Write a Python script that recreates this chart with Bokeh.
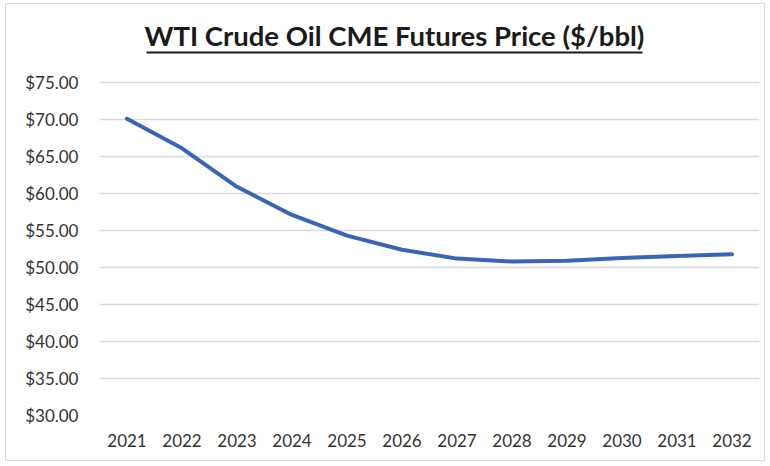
from bokeh.plotting import figure
from bokeh.models import FixedTicker, NumeralTickFormatter, BoxAnnotation, Label, Range1d
from bokeh.embed import file_html
from bokeh.resources import INLINE

years = ["2021", "2022", "2023", "2024", "2025", "2026",
         "2027", "2028", "2029", "2030", "2031", "2032"]
prices = [70.1, 66.1, 60.9, 57.1, 54.3, 52.4, 51.2, 50.8, 50.9, 51.3, 51.55, 51.8]
y_ticks = [30, 35, 40, 45, 50, 55, 60, 65, 70, 75]
title_text = "WTI Crude Oil CME Futures Price ($/bbl)"

FONT = "Lato"

# frame spans the whole height; the title sits inside it above the $75 gridline
p = figure(x_range=years, y_range=Range1d(30, 85.54), width=760, height=458,
           output_backend="svg", toolbar_location=None,
           min_border_left=93, min_border_right=7, min_border_bottom=47,
           min_border_top=0)

p.line(x=years, y=prices, line_color="#3A64B8", line_width=4,
       line_join="round", line_cap="round")

# title + underline (screen units, measured from the frame's bottom-left)
p.add_layout(Label(x=295, y=380, x_units="screen", y_units="screen",
                   text=title_text, text_align="center", text_baseline="alphabetic",
                   text_font=FONT, text_font_size="27.5px", text_font_style="bold",
                   text_color="#1a1a1a"))
p.add_layout(BoxAnnotation(left=47, right=543, bottom=362, top=364,
                           left_units="screen", right_units="screen",
                           bottom_units="screen", top_units="screen",
                           fill_color="#1a1a1a", fill_alpha=1.0,
                           line_color=None))

p.outline_line_color = None
p.background_fill_color = "white"
p.border_fill_color = "white"

p.xgrid.grid_line_color = None
p.ygrid.grid_line_color = "#d9d9d9"
p.ygrid.grid_line_width = 1.5

p.yaxis.ticker = FixedTicker(ticks=y_ticks)
p.yaxis.formatter = NumeralTickFormatter(format="$0.00")
for ax in (p.xaxis, p.yaxis):
    ax.axis_line_color = None
    ax.major_tick_line_color = None
    ax.minor_tick_line_color = None
    ax.major_tick_out = 0
    ax.major_tick_in = 0
    ax.major_label_text_font = FONT
    ax.major_label_text_font_size = "17px"
    ax.major_label_text_color = "#333333"
p.yaxis.major_label_standoff = 21
p.xaxis.major_label_standoff = 18

p.styles = {"border": "1px solid #d9d9d9", "margin": "3px 0px 0px 5px"}

open("out.html", "w").write(file_html(p, INLINE))
